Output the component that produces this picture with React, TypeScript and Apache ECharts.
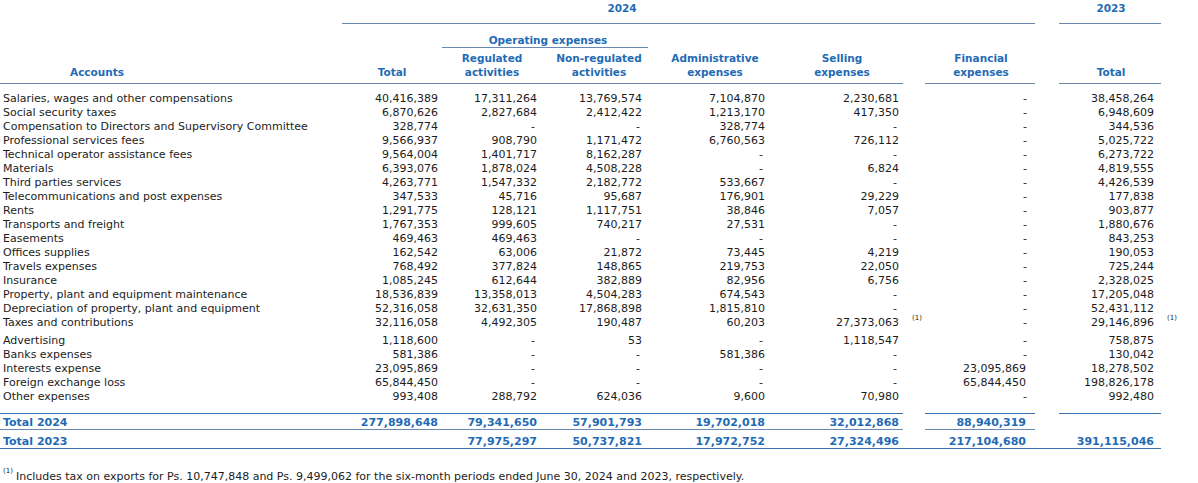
import React, { useEffect, useRef } from "react";
import * as echarts from "echarts";

// ---------- DATA ----------
const accounts = [
  "Salaries, wages and other compensations",
  "Social security taxes",
  "Compensation to Directors and Supervisory Committee",
  "Professional services fees",
  "Technical operator assistance fees",
  "Materials",
  "Third parties services",
  "Telecommunications and post expenses",
  "Rents",
  "Transports and freight",
  "Easements",
  "Offices supplies",
  "Travels expenses",
  "Insurance",
  "Property, plant and equipment maintenance",
  "Depreciation of property, plant and equipment",
  "Taxes and contributions",
  "Advertising",
  "Banks expenses",
  "Interests expense",
  "Foreign exchange loss",
  "Other expenses",
];
const total2024 = [40416389, 6870626, 328774, 9566937, 9564004, 6393076, 4263771, 347533, 1291775, 1767353, 469463, 162542, 768492, 1085245, 18536839, 52316058, 32116058, 1118600, 581386, 23095869, 65844450, 993408];
const regulated = [17311264, 2827684, null, 908790, 1401717, 1878024, 1547332, 45716, 128121, 999605, 469463, 63006, 377824, 612644, 13358013, 32631350, 4492305, null, null, null, null, 288792];
const nonRegulated = [13769574, 2412422, null, 1171472, 8162287, 4508228, 2182772, 95687, 1117751, 740217, null, 21872, 148865, 382889, 4504283, 17868898, 190487, 53, null, null, null, 624036];
const administrative = [7104870, 1213170, 328774, 6760563, null, null, 533667, 176901, 38846, 27531, null, 73445, 219753, 82956, 674543, 1815810, 60203, null, 581386, null, null, 9600];
const selling = [2230681, 417350, null, 726112, null, 6824, null, 29229, 7057, null, null, 4219, 22050, 6756, null, null, 27373063, 1118547, null, null, null, 70980];
const financial = [null, null, null, null, null, null, null, null, null, null, null, null, null, null, null, null, null, null, null, 23095869, 65844450, null];
const total2023 = [38458264, 6948609, 344536, 5025722, 6273722, 4819555, 4426539, 177838, 903877, 1880676, 843253, 190053, 725244, 2328025, 17205048, 52431112, 29146896, 758875, 130042, 18278502, 198826178, 992480];

const totalRow2024 = ["Total 2024", 277898648, 79341650, 57901793, 19702018, 32012868, 88940319, ""];
const totalRow2023 = ["Total 2023", "", 77975297, 50737821, 17972752, 27324496, 217104680, 391115046];

const noteRow = 16; // Taxes and contributions
const noteCols = [5, 7];
const footnote =
  "Includes tax on exports for Ps. 10,747,848 and Ps. 9,499,062 for the six-month periods ended June 30, 2024 and 2023, respectively.";

// ---------- LAYOUT ----------
const W = 1198;
const H = 483;
const colRight = [3, 438, 537, 642, 765, 899, 1026, 1154];
const dashShift = [0, -2, -2, -2, -2, -2, 1, -2];
const rowY = (r: number) => {
  if (r < 17) return 98 + 14 * r;
  if (r < 22) return 102 + 14 * r;
  return r === 22 ? 422 : 441;
};
const BLUE = "#1f6bb5";
const LINE = "#6a89b0";
const LINE2 = "#3a72b0";
const TXT = "#1c1c1c";
const FF = '"DejaVu Sans", Verdana, sans-serif';

const fmt = (v: any) => (v === null ? "-" : typeof v === "number" ? v.toLocaleString("en-US") : v);

export default function App() {
  const ref = useRef<HTMLDivElement>(null);
  useEffect(() => {
    if (!ref.current) return;
    const chart = echarts.init(ref.current, undefined, { renderer: "svg" });

    const columns = [accounts, total2024, regulated, nonRegulated, administrative, selling, financial, total2023];
    const cells: { c: number; r: number; text: string; bold: boolean }[] = [];
    accounts.forEach((_, r) => {
      columns.forEach((col, c) => {
        cells.push({ c, r, text: c === 0 ? (col[r] as string) : fmt(col[r]), bold: false });
      });
    });
    [totalRow2024, totalRow2023].forEach((row, k) => {
      row.forEach((v, c) => {
        if (v === "") return;
        cells.push({ c, r: 22 + k, text: fmt(v), bold: true });
      });
    });

    const hdr = (text: string, x: number, y: number, extra: any = {}) => ({
      type: "text",
      x,
      y,
      style: { text, fill: BLUE, font: `bold 10.5px ${FF}`, align: "center", verticalAlign: "middle", ...extra },
    });
    const line = (x1: number, x2: number, y: number, stroke = LINE) => ({
      type: "line",
      shape: { x1, y1: y + 0.5, x2, y2: y + 0.5 },
      style: { stroke, lineWidth: 1 },
    });

    const graphics: any[] = [
      hdr("2024", 622, 8),
      hdr("2023", 1111, 8),
      line(342, 1035, 23),
      line(1059, 1161, 23),
      hdr("Operating expenses", 548, 40),
      line(442, 648, 47),
      hdr("Regulated", 492, 58),
      hdr("activities", 492, 72),
      hdr("Non-regulated", 599, 58),
      hdr("activities", 599, 72),
      hdr("Administrative", 715, 58),
      hdr("expenses", 715, 72),
      hdr("Selling", 842, 58),
      hdr("expenses", 842, 72),
      hdr("Financial", 981, 58),
      hdr("expenses", 981, 72),
      hdr("Accounts", 97, 72),
      hdr("Total", 392, 72),
      hdr("Total", 1111, 72),
      line(0, 903, 83),
      line(925, 1035, 83),
      line(1059, 1161, 83),
      line(0, 903, 413, LINE2),
      line(925, 1035, 413, LINE2),
      line(1059, 1161, 413, LINE2),
      line(0, 903, 429),
      line(925, 1035, 429),
      line(0, 1161, 448, LINE2),
      ...noteCols.map((c) => ({
        type: "text",
        x: colRight[c] + 13,
        y: rowY(noteRow) - 4,
        style: { text: "(1)", fill: TXT, font: `7px ${FF}`, align: "left", verticalAlign: "middle" },
      })),
      {
        type: "text",
        x: 3,
        y: 471,
        style: { text: "(1)", fill: TXT, font: `7px ${FF}`, align: "left", verticalAlign: "middle" },
      },
      {
        type: "text",
        x: 16,
        y: 476,
        style: { text: footnote, fill: TXT, font: `11px ${FF}`, align: "left", verticalAlign: "middle" },
      },
    ];

    chart.setOption({
      animation: false,
      backgroundColor: "#ffffff",
      grid: { left: 0, right: 0, top: 0, bottom: 0 },
      xAxis: { type: "value", min: 0, max: W, show: false },
      yAxis: { type: "value", min: 0, max: H, inverse: true, show: false },
      series: [
        {
          type: "custom",
          coordinateSystem: "cartesian2d",
          data: cells.map((cell) => [cell.c, cell.r]),
          renderItem: (params: any, api: any) => {
            const cell = cells[params.dataIndex];
            const c = api.value(0);
            const r = api.value(1);
            const pt = api.coord([colRight[c], rowY(r)]);
            const isDash = cell.text === "-";
            return {
              type: "text",
              x: pt[0] + (isDash ? dashShift[c] : 0),
              y: pt[1],
              style: {
                text: cell.text,
                fill: cell.bold ? BLUE : TXT,
                font: cell.bold ? `bold 11px ${FF}` : `11px ${FF}`,
                align: c === 0 ? "left" : "right",
                verticalAlign: "middle",
              },
            };
          },
        },
      ],
      graphic: graphics,
    });
    return () => chart.dispose();
  }, []);
  return <div ref={ref} style={{ position: "absolute", left: 0, top: 0, width: W, height: H }} />;
}
